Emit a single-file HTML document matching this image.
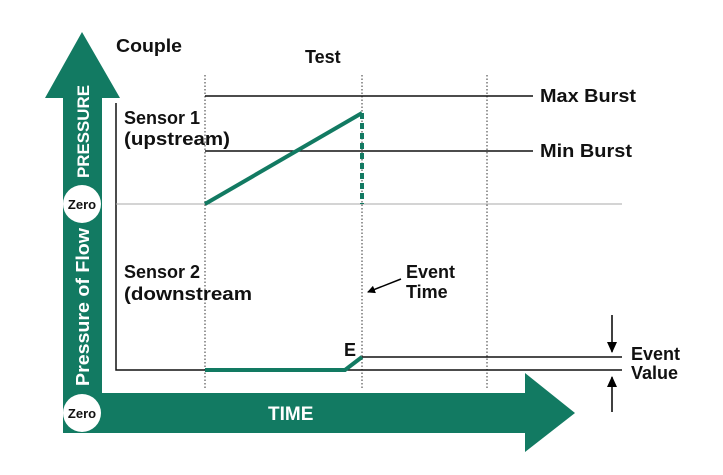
<!DOCTYPE html>
<html><head><style>body{margin:0;background:#fff}svg{display:block}text{font-family:"Liberation Sans",sans-serif;font-weight:bold}</style></head><body>
<svg width="723" height="475" viewBox="0 0 723 475">
<defs><marker id="a" markerWidth="8" markerHeight="8" refX="7" refY="4" orient="auto" markerUnits="userSpaceOnUse"><path d="M0,0 L8,4 L0,8 Z" fill="#000"/></marker>
<marker id="b" markerWidth="12" markerHeight="12" refX="10" refY="6" orient="auto" markerUnits="userSpaceOnUse"><path d="M0,1 L11,6 L0,11 Z" fill="#000"/></marker></defs>
<g fill="#127a62">
<polygon points="82,32 120,98 102,98 102,393 525,393 525,373 575,413 525,452 525,433 63,433 63,98 45,98"/>
</g>
<circle cx="82" cy="204" r="19" fill="#fff"/>
<circle cx="82" cy="413" r="19" fill="#fff"/>
<text x="82" y="209" font-size="13" text-anchor="middle" fill="#111">Zero</text>
<text x="82" y="418" font-size="13" text-anchor="middle" fill="#111">Zero</text>
<text transform="translate(89,178) rotate(-90)" font-size="17" fill="#fff" textLength="93" lengthAdjust="spacingAndGlyphs">PRESSURE</text>
<text transform="translate(89,386) rotate(-90)" font-size="18" fill="#fff" textLength="158" lengthAdjust="spacingAndGlyphs">Pressure of Flow</text>
<text x="268" y="420" font-size="19" fill="#fff">TIME</text>
<g stroke="#333" stroke-width="1" stroke-dasharray="1.5,2" fill="none">
<line x1="205" y1="75" x2="205" y2="390"/><line x1="362" y1="75" x2="362" y2="390"/><line x1="487" y1="75" x2="487" y2="390"/></g>
<g stroke="#111" stroke-width="1.5" fill="none">
<polyline points="116,103 116,370 205,370"/>
<line x1="205" y1="96" x2="533" y2="96"/><line x1="205" y1="151" x2="533" y2="151"/>
<line x1="362" y1="357" x2="622" y2="357"/><line x1="345" y1="370" x2="622" y2="370"/>
</g>
<line x1="116" y1="204" x2="622" y2="204" stroke="#aaa" stroke-width="1"/>
<g stroke="#127a62" stroke-width="4" fill="none">
<polyline points="205,204 362,113"/>
<line x1="362" y1="113" x2="362" y2="204" stroke-dasharray="6,4"/>
<polyline points="205,370 345,370 362,357"/>
</g>
<line x1="612" y1="315" x2="612" y2="352" stroke="#000" stroke-width="1.5" marker-end="url(#b)"/>
<line x1="612" y1="412" x2="612" y2="377" stroke="#000" stroke-width="1.5" marker-end="url(#b)"/>
<line x1="401" y1="279" x2="368" y2="292" stroke="#000" stroke-width="1.5" marker-end="url(#a)"/>
<g fill="#111" font-size="18">
<text x="116" y="52" textLength="66" lengthAdjust="spacingAndGlyphs">Couple</text>
<text x="305" y="63">Test</text>
<text x="124" y="124">Sensor 1</text><text x="124" y="145" textLength="106" lengthAdjust="spacingAndGlyphs">(upstream)</text>
<text x="124" y="278">Sensor 2</text><text x="124" y="300" textLength="128" lengthAdjust="spacingAndGlyphs">(downstream</text>
<text x="540" y="102" textLength="96" lengthAdjust="spacingAndGlyphs">Max Burst</text><text x="540" y="157" textLength="92" lengthAdjust="spacingAndGlyphs">Min Burst</text>
<text x="406" y="278">Event</text><text x="406" y="298">Time</text>
<text x="344" y="356">E</text>
<text x="631" y="360">Event</text><text x="631" y="379">Value</text>
</g>
</svg></body></html>
